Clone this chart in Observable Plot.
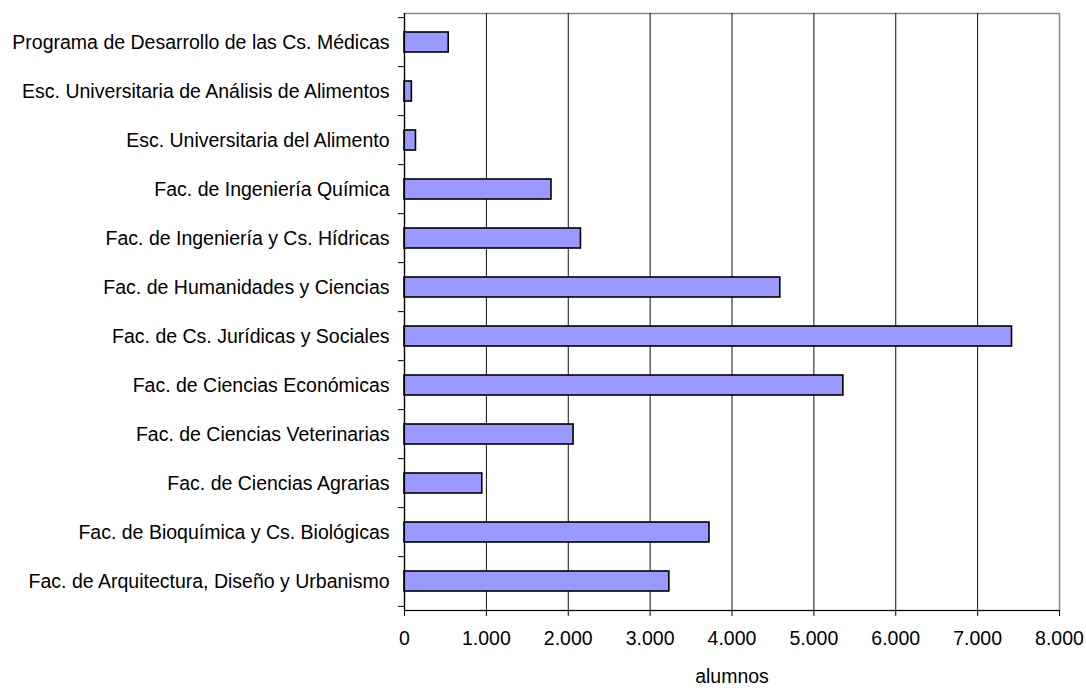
<!DOCTYPE html>
<html>
<head>
<meta charset="utf-8">
<script src="https://cdn.jsdelivr.net/npm/d3@7"></script>
<script src="https://cdn.jsdelivr.net/npm/@observablehq/plot@0.6"></script>
<style>
  html, body { margin: 0; padding: 0; background: #fff; }
  #chart { width: 1086px; height: 688px; }
</style>
</head>
<body>
<div id="chart"></div>
<script>
const categories = [
  "Programa de Desarrollo de las Cs. Médicas",
  "Esc. Universitaria de Análisis de Alimentos",
  "Esc. Universitaria del Alimento",
  "Fac. de Ingeniería Química",
  "Fac. de Ingeniería y Cs. Hídricas",
  "Fac. de Humanidades y Ciencias",
  "Fac. de Cs. Jurídicas y Sociales",
  "Fac. de Ciencias Económicas",
  "Fac. de Ciencias Veterinarias",
  "Fac. de Ciencias Agrarias",
  "Fac. de Bioquímica y Cs. Biológicas",
  "Fac. de Arquitectura, Diseño y Urbanismo"
];
const alumnos = [540, 90, 140, 1795, 2155, 4590, 7420, 5360, 2065, 950, 3725, 3235];
const xTicks = [0, 1000, 2000, 3000, 4000, 5000, 6000, 7000, 8000];
const xLabel = "alumnos";

const data = categories.map((c, i) => ({categoria: c, alumnos: alumnos[i]}));

const W = 1086, H = 688;
const mT = 13, mB = 78, mL = 404, mR = 27;
const step = (H - mT - mB) / categories.length;

const fmt = d3.formatLocale({decimal: ",", thousands: ".", grouping: [3], currency: ["$", ""]}).format(",d");

const chart = Plot.plot({
  width: W,
  height: H,
  marginTop: mT,
  marginBottom: mB,
  marginLeft: mL,
  marginRight: mR,
  style: {fontFamily: "'Liberation Sans', Arial, sans-serif", fontSize: "19.5px", color: "#000", background: "#fff"},
  x: {domain: [0, 8000], axis: null},
  y: {domain: categories, type: "band", paddingInner: 0.6, paddingOuter: 0.3, axis: null},
  marks: [
    Plot.frame({stroke: "#888", strokeWidth: 1.5}),
    Plot.ruleX(xTicks.slice(1, -1), {stroke: "#111", strokeWidth: 1}),
    Plot.barX(data, {x: "alumnos", y: "categoria", fill: "#9999FF", stroke: "#000", strokeWidth: 1.6}),
    Plot.ruleX([0], {stroke: "#000", strokeWidth: 1.2}),
    Plot.frame({anchor: "bottom", stroke: "#000", strokeWidth: 1.2}),
    Plot.axisX({ticks: xTicks, tickFormat: fmt, tickSize: 6, tickPadding: 15, stroke: "#000", fill: "#000", label: null}),
    Plot.axisY({ticks: categories, tickSize: 0, tickPadding: 15, fill: "#000", label: null}),
    Plot.axisY({ticks: categories, tickSize: 6, tickFormat: () => "", dy: -step / 2, stroke: "#000", label: null}),
    Plot.axisY({ticks: categories.slice(-1), tickSize: 6, tickFormat: () => "", dy: step / 2, stroke: "#000", label: null}),
    Plot.text([xLabel], {frameAnchor: "bottom", dy: 72, fill: "#000", fontSize: 19.5})
  ]
});

document.getElementById("chart").appendChild(chart);
</script>
</body>
</html>
